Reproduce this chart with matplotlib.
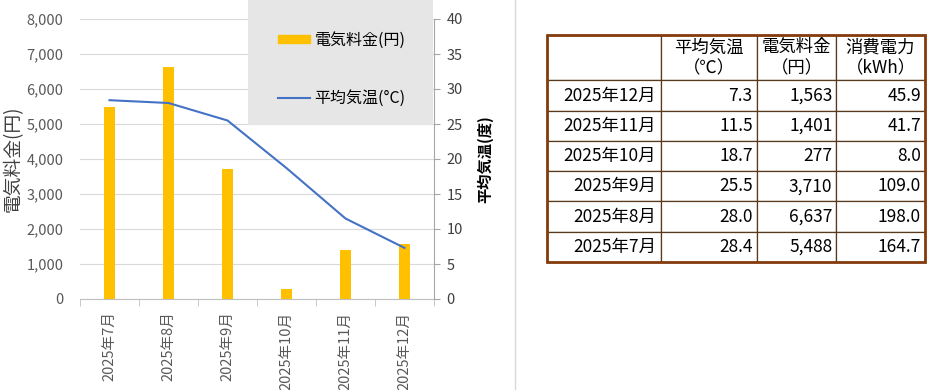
import numpy as np
import matplotlib
matplotlib.use("Agg")
import matplotlib.pyplot as plt
from matplotlib.patches import Rectangle, Patch
from matplotlib.lines import Line2D

plt.rcParams['font.family'] = ['Noto Sans CJK JP', 'DejaVu Sans']

# datos
meses = ["2025年7月", "2025年8月", "2025年9月", "2025年10月", "2025年11月", "2025年12月"]
ryokin = [5488, 6637, 3710, 277, 1401, 1563]
kion = [28.4, 28.0, 25.5, 18.7, 11.5, 7.3]
denryoku = [164.7, 198.0, 109.0, 8.0, 41.7, 45.9]
col_labels = ["", "平均気温\n（℃）", "電気料金\n（円）", "消費電力\n（kWh）"]

fig = plt.figure(figsize=(9.27, 3.9), dpi=100)

# grafico
ax = fig.add_axes([80/927, 1-299/390, 354/927, 280/390])
x = np.arange(len(meses))
ax.bar(x, ryokin, width=0.2, color="#FFC000", zorder=2)
ax.set_xlim(-0.5, len(meses)-0.5)
ax.set_ylim(0, 8000)
ax.set_yticks(np.arange(0, 8001, 1000))
ax.set_yticklabels([f"{v:,}" for v in range(0, 8001, 1000)])
ax.grid(axis="y", color="#D9D9D9", lw=0.8, zorder=0)
ax.set_axisbelow(True)
for s in ["left", "top", "right"]:
    ax.spines[s].set_visible(False)
ax.spines["bottom"].set_color("#BFBFBF")
ax.tick_params(axis="y", length=0, pad=12, labelsize=10.5, labelcolor="#595959")
ax.set_xticks(x)
ax.set_xticklabels(meses, rotation=90)
ax.set_xticks(np.arange(-0.5, len(meses)), minor=True)
ax.tick_params(axis="x", which="major", length=0, pad=9, labelsize=10.5, labelcolor="#595959")
ax.tick_params(axis="x", which="minor", length=5, color="#BFBFBF")
ax.set_ylabel("電気料金(円)", fontsize=13.5, color="#404040", labelpad=2)

ax2 = ax.twinx()
ax2.plot(x, kion, color="#4472C4", lw=1.5, zorder=3)
ax2.set_ylim(0, 40)
ax2.set_yticks(np.arange(0, 41, 5))
for s in ["left", "top", "bottom"]:
    ax2.spines[s].set_visible(False)
ax2.spines["right"].set_color("#A6A6A6")
ax2.tick_params(axis="y", length=4, color="#A6A6A6", pad=5, labelsize=10.5, labelcolor="#404040")
ax2.set_ylabel("平均気温(度)", fontsize=11, fontweight="bold", color="black", labelpad=10)

# leyenda
fig.patches.append(Rectangle((248/927, 1-125/390), 185/927, 125/390,
                             transform=fig.transFigure, facecolor="#E6E6E6",
                             edgecolor="none", zorder=5))
handles = [Patch(color="#FFC000"), Line2D([], [], color="#4472C4", lw=1.5)]
leg = fig.legend(handles, ["電気料金(円)", "平均気温(°C)"], loc="upper left",
                 bbox_to_anchor=(264/927, 1-17/390), frameon=False, fontsize=11.5,
                 labelspacing=2.6, handlelength=2.0, handleheight=0.4, handletextpad=0.25)
leg.set_zorder(6)

# separador
fig.add_artist(Line2D([515/927, 515/927], [0, 1], transform=fig.transFigure,
                      color="#D9D9D9", lw=1))

# tabla
tax = fig.add_axes([547/927, 1-262/390, 378/927, 227/390])
tax.axis("off")
rows = list(zip(meses, kion, ryokin, denryoku))[::-1]
cell_text = [[m, f"{k:.1f}", f"{r:,}", f"{d:.1f}"] for m, k, r, d in rows]
tbl = tax.table(cellText=cell_text, colLabels=col_labels, cellLoc="right",
                colLoc="center", bbox=[0, 0, 1, 1],
                colWidths=[114, 96, 79, 89])
tbl.auto_set_font_size(False)
tbl.set_fontsize(12.5)
for (r, c), cell in tbl.get_celld().items():
    cell.set_edgecolor("#5a3a1e")
    cell.set_linewidth(0.9)
    cell.PAD = 0.045
    cell.set_height(1.5 if r == 0 else 1.0)
tax.add_patch(Rectangle((0, 0), 1, 1, transform=tax.transAxes, fill=False,
                        edgecolor="#843C0C", lw=2, zorder=10, clip_on=False))

fig.savefig("out.png", dpi=100)
